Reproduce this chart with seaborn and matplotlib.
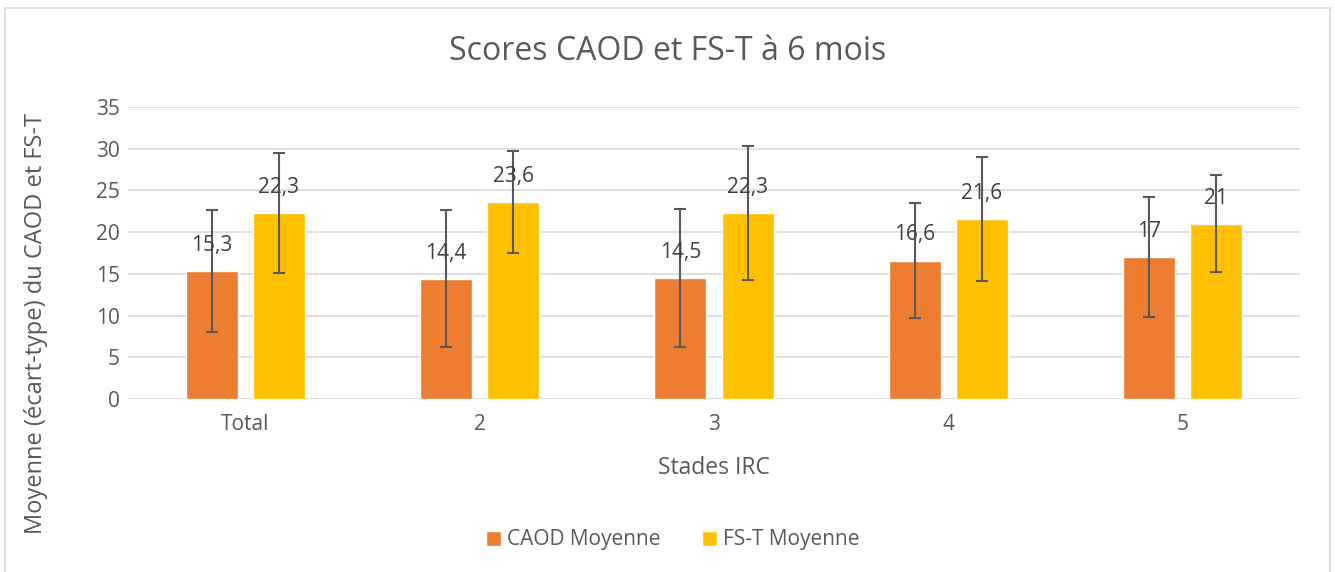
import matplotlib
matplotlib.use("Agg")
import matplotlib.pyplot as plt
import seaborn as sns
import pandas as pd
from matplotlib.patches import Rectangle

categories = ["Total", "2", "3", "4", "5"]
series = ["CAOD Moyenne", "FS-T Moyenne"]
caod_mean = [15.3, 14.4, 14.5, 16.6, 17.0]
caod_sd = [7.3, 8.2, 8.3, 6.9, 7.2]
fst_mean = [22.3, 23.6, 22.3, 21.6, 21.0]
fst_sd = [7.2, 6.1, 8.0, 7.4, 5.8]
labels_caod = ["15,3", "14,4", "14,5", "16,6", "17"]
labels_fst = ["22,3", "23,6", "22,3", "21,6", "21"]

colors = ["#ED7D31", "#FFC000"]
txt = "#595959"

sns.set_theme(style="white")
plt.rcParams['font.family'] = ['Open Sans', 'DejaVu Sans']

df = pd.DataFrame({
    "Stade": categories * 2,
    "Serie": [series[0]] * 5 + [series[1]] * 5,
    "Valeur": caod_mean + fst_mean,
})

fig = plt.figure(figsize=(13.35, 5.72), dpi=100)
ax = fig.add_axes([128 / 1335, 1 - 399 / 572, (1300 - 128) / 1335, (399 - 107) / 572])

sns.barplot(data=df, x="Stade", y="Valeur", hue="Serie", palette=colors,
            order=categories, hue_order=series, width=0.572, gap=0.224,
            errorbar=None, ax=ax, saturation=1, legend=True)

means = [caod_mean, fst_mean]
sds = [caod_sd, fst_sd]
labs = [labels_caod, labels_fst]
bar_conts = list(ax.containers)
for i, cont in enumerate(bar_conts):
    xs = [p.get_x() + p.get_width() / 2 for p in cont.patches]
    ax.errorbar(xs, means[i], yerr=sds[i], fmt="none", ecolor="#595959",
                elinewidth=1.5, capsize=4.3, capthick=1.5, zorder=5)
    for x, m, l in zip(xs, means[i], labs[i]):
        ax.annotate(l, (x, m), xytext=(0, 18.5), textcoords="offset points",
                    ha="center", va="center", fontsize=15, color="#404040", zorder=6)

ax.set_ylim(0, 35)
ax.set_yticks(range(0, 36, 5))
ax.set_xlim(-0.5, 4.5)
ax.yaxis.grid(True, color="#d9d9d9", linewidth=1.2)
ax.set_axisbelow(True)
for s in ax.spines.values():
    s.set_visible(False)
ax.tick_params(axis="y", colors=txt, labelsize=15, length=0, pad=6)
ax.tick_params(axis="x", colors=txt, labelsize=15, length=0, pad=11)
ax.set_xlabel("Stades IRC", fontsize=16.5, color=txt)
ax.xaxis.set_label_coords(0.5, -(468 - 399) / 292)
ax.xaxis.label.set_verticalalignment("center")
ax.set_ylabel("Moyenne (écart-type) du CAOD et FS-T", fontsize=17, color=txt)
ax.yaxis.set_label_coords(-(128 - 36) / 1172, (399 - 323) / 292)
ax.yaxis.label.set_verticalalignment("center")

fig.text(0.5, 1 - 52 / 572, "Scores CAOD et FS-T à 6 mois", ha="center", va="center",
         fontsize=23, color=txt)

leg = ax.legend(loc="center", bbox_to_anchor=((673 - 128) / 1172, -(540 - 399) / 292),
                ncol=2, frameon=False, fontsize=15, handlelength=0.7, handleheight=0.7,
                columnspacing=2.0, handletextpad=0.3)
for t in leg.get_texts():
    t.set_color(txt)

fig.patches.append(Rectangle((5 / 1335, -0.02), 1325 / 1335, 1.02 - 8 / 572, transform=fig.transFigure,
                             fill=False, edgecolor="#d9d9d9", linewidth=1.2))

fig.savefig("out.png", dpi=100)
